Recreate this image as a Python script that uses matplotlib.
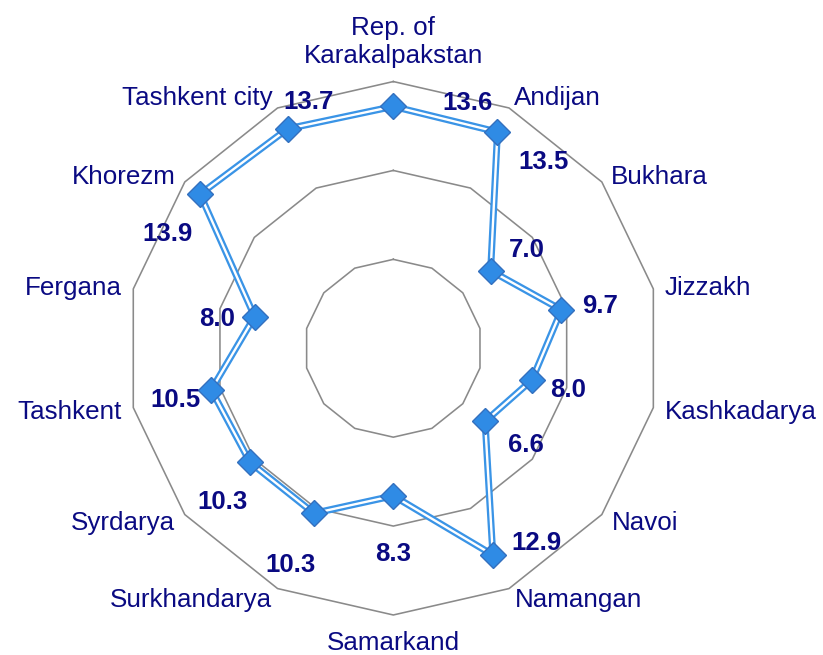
import numpy as np
import matplotlib
matplotlib.use("Agg")
import matplotlib.pyplot as plt

plt.rcParams['font.family'] = ['Liberation Sans', 'DejaVu Sans']

# ---- data ----
categories = ["Rep. of\nKarakalpakstan", "Andijan", "Bukhara", "Jizzakh", "Kashkadarya",
              "Navoi", "Namangan", "Samarkand", "Surkhandarya", "Syrdarya",
              "Tashkent", "Fergana", "Khorezm", "Tashkent city"]
values = [13.6, 13.5, 7.0, 9.7, 8.0, 6.6, 12.9, 8.3, 10.3, 10.3, 10.5, 8.0, 13.9, 13.7]
grid_levels = [5, 10, 15]
r_max = 15

# ---- layout / style (pixel offsets, x right / y down) ----
cat_offsets = [(0, -18.5), (5, -3), (9, 2), (11, 6.5), (11.5, 11.5), (10, 15), (6, 18.4),
               (0, 35), (-6, 18.4), (-10, 15), (-11.5, 11.5), (-11, 6.5), (-9, 2), (-5, -3)]
cat_ha = ['center', 'left', 'left', 'left', 'left', 'left', 'left',
          'center', 'right', 'right', 'right', 'right', 'right', 'right']
val_offsets = [(74, -6), (46, 28), (36, -23), (39, -6), (36, 8), (41, 21), (44, -14),
               (0, 56), (-23, 49), (-28, 37), (-36, 8), (-38, 0), (-33, 38), (21, -29)]

navy = '#0A0A82'
grid_col = '#8A8A8A'
line_blue = '#3A94E6'
marker_face = '#2F8BE5'
marker_edge = '#3470BE'

n = len(categories)
theta = np.linspace(0, 2 * np.pi, n, endpoint=False)
theta_c = np.append(theta, theta[0])

fig = plt.figure(figsize=(8.23, 6.55), dpi=100)
ax = fig.add_axes([0.1538, 0.0611, 0.6482, 0.8144], projection='polar')
ax.set_theta_zero_location('N')
ax.set_theta_direction(-1)
ax.set_ylim(0, r_max)
ax.set_xticks([])
ax.set_yticks([])
ax.grid(False)
ax.spines['polar'].set_visible(False)
ax.patch.set_visible(False)

# polygon gridlines
for lv in grid_levels:
    ax.plot(theta_c, [lv] * (n + 1), color=grid_col, lw=1.15, zorder=1, clip_on=False)

# data series: double line (blue with white core)
vals_c = values + [values[0]]
ax.plot(theta_c, vals_c, color=line_blue, lw=5.0, zorder=3, clip_on=False,
        solid_joinstyle='miter')
ax.plot(theta_c, vals_c, color='white', lw=1.7, zorder=4, clip_on=False,
        solid_joinstyle='miter')
ax.plot(theta, values, linestyle='none', marker='D', ms=13.5, mfc=marker_face,
        mec=marker_edge, mew=1.0, zorder=5, clip_on=False)

# category labels
for t, lab, (dx, dy), ha in zip(theta, categories, cat_offsets, cat_ha):
    ax.annotate(lab, xy=(t, r_max), xytext=(dx, -dy), textcoords='offset pixels',
                ha=ha, va='baseline', fontsize=18.7, color=navy,
                annotation_clip=False, linespacing=1.2)

# value labels
for t, v, (dx, dy) in zip(theta, values, val_offsets):
    ax.annotate(f"{v:.1f}", xy=(t, v), xytext=(dx, -(dy + 9.3)), textcoords='offset pixels',
                ha='center', va='baseline', fontsize=18.5, fontweight='bold', color=navy,
                annotation_clip=False, zorder=6)

fig.savefig('out.png', dpi=100)
